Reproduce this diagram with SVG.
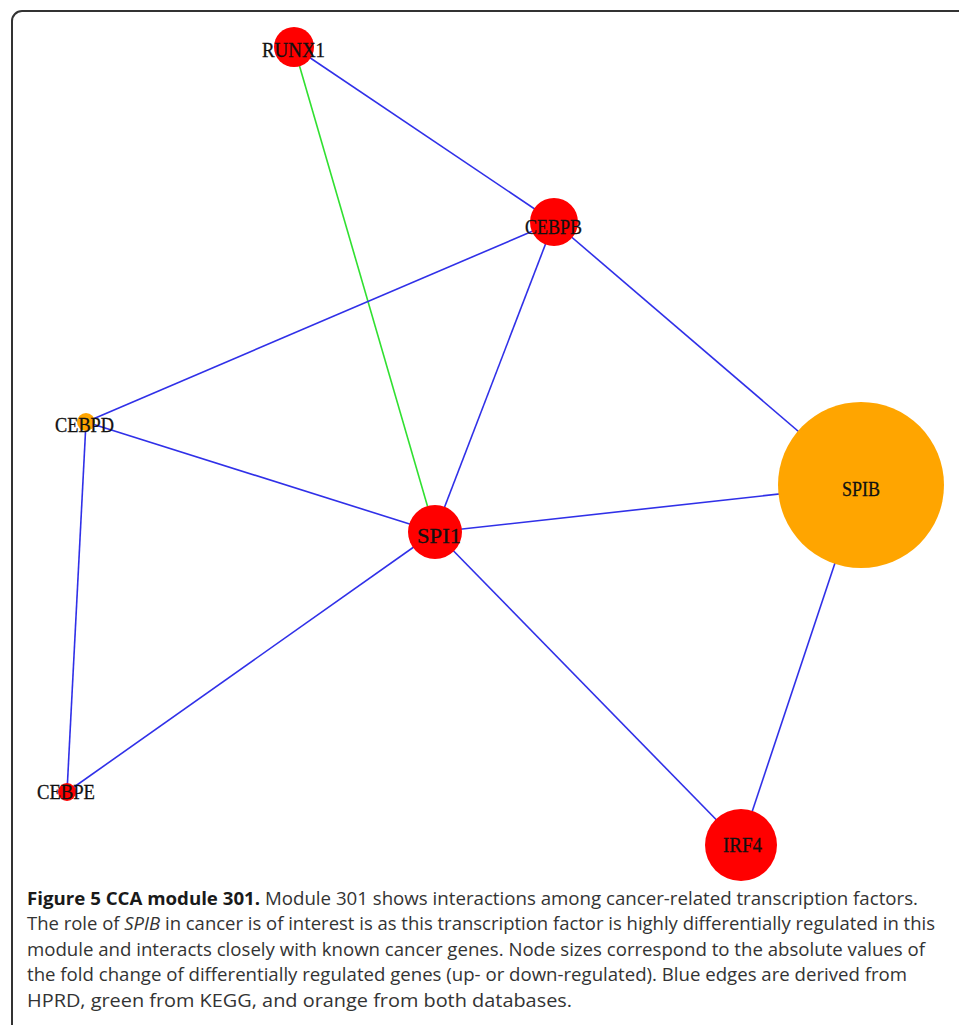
<svg xmlns="http://www.w3.org/2000/svg" width="959" height="1025" viewBox="0 0 959 1025">
<style>
.e{stroke:#3030e8;stroke-width:1.6;fill:none}
.g{stroke:#30e030;stroke-width:1.6;fill:none}
.red{fill:#ff0000}
.org{fill:#ffa500}
.lbl{font-family:"Liberation Serif","Times New Roman",serif;font-size:20px;fill:#111;stroke:#111;stroke-width:0.3;text-anchor:start}
.cap{font-family:"Open Sans","Liberation Sans",sans-serif;font-size:18.5px;fill:#333}
.b{font-weight:bold;fill:#1a1a1a}
</style>
<rect width="959" height="1025" fill="#fff"/>
<path d="M12,1025 V21 A10,10 0 0 1 22,11 H959" fill="none" stroke="#333" stroke-width="2"/>
<g id="connectors">
<line class="e" x1="294" y1="47" x2="554" y2="222"/>
<line class="g" x1="294" y1="47" x2="435" y2="532"/>
<line class="e" x1="554" y1="222" x2="86" y2="422"/>
<line class="e" x1="554" y1="222" x2="435" y2="532"/>
<line class="e" x1="554" y1="222" x2="861" y2="485"/>
<line class="e" x1="86" y1="422" x2="435" y2="532"/>
<line class="e" x1="86" y1="422" x2="67" y2="792"/>
<line class="e" x1="435" y1="532" x2="67" y2="792"/>
<line class="e" x1="435" y1="532" x2="861" y2="485"/>
<line class="e" x1="435" y1="532" x2="741" y2="845"/>
<line class="e" x1="861" y1="485" x2="741" y2="845"/>
</g>
<g id="node-RUNX1"><circle class="red" cx="294" cy="47" r="20"/><text class="lbl" x="262" y="57" textLength="63" lengthAdjust="spacingAndGlyphs">RUNX1</text></g>
<g id="node-CEBPB"><circle class="red" cx="554" cy="222" r="24"/><text class="lbl" x="525" y="234" textLength="57" lengthAdjust="spacingAndGlyphs">CEBPB</text></g>
<g id="node-CEBPD"><circle class="org" cx="86" cy="422" r="9"/><text class="lbl" x="55" y="432" textLength="59" lengthAdjust="spacingAndGlyphs">CEBPD</text></g>
<g id="node-SPI1"><circle class="red" cx="435" cy="532" r="27"/><text class="lbl" x="417" y="543" textLength="44" lengthAdjust="spacingAndGlyphs">SPI1</text></g>
<g id="node-CEBPE"><circle class="red" cx="67" cy="792" r="9"/><text class="lbl" x="37" y="799" textLength="58" lengthAdjust="spacingAndGlyphs">CEBPE</text></g>
<g id="node-SPIB"><circle class="org" cx="861" cy="485" r="83"/><text class="lbl" x="842" y="496" textLength="38" lengthAdjust="spacingAndGlyphs">SPIB</text></g>
<g id="node-IRF4"><circle class="red" cx="741" cy="845" r="36"/><text class="lbl" x="723" y="852" textLength="39" lengthAdjust="spacingAndGlyphs">IRF4</text></g>
<g id="caption">
<text class="cap" x="27" y="905" textLength="891" lengthAdjust="spacingAndGlyphs"><tspan class="b">Figure 5 CCA module 301.</tspan> Module 301 shows interactions among cancer-related transcription factors.</text>
<text class="cap" x="27" y="930" textLength="908" lengthAdjust="spacingAndGlyphs">The role of <tspan font-style="italic">SPIB</tspan> in cancer is of interest is as this transcription factor is highly differentially regulated in this</text>
<text class="cap" x="27" y="956" textLength="898" lengthAdjust="spacingAndGlyphs">module and interacts closely with known cancer genes. Node sizes correspond to the absolute values of</text>
<text class="cap" x="27" y="981" textLength="880" lengthAdjust="spacingAndGlyphs">the fold change of differentially regulated genes (up- or down-regulated). Blue edges are derived from</text>
<text class="cap" x="27" y="1007" textLength="545" lengthAdjust="spacingAndGlyphs">HPRD, green from KEGG, and orange from both databases.</text>
</g>
</svg>
